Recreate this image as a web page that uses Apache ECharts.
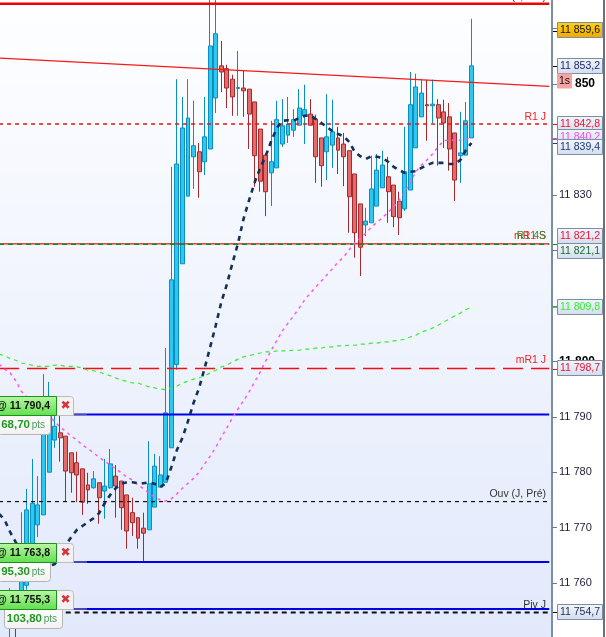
<!DOCTYPE html>
<html><head><meta charset="utf-8">
<style>html,body{margin:0;padding:0;background:#fff}#c{width:606px;height:637px}</style>
<script src="https://cdn.jsdelivr.net/npm/echarts@6/dist/echarts.min.js"></script>
</head><body><div id="c"></div>
<script>
// ---- data ----
const candleOpen = [null,null,11752.4,11755.1,11757.3,11759.6,11766.9,11770.5,11772.3,11780.0,11785.8,
11787.1,11786.5,11783.5,11781.7,11780.6,11777.7,11777.2,11778.1,11776.6,11777.2,
11779.3,11778.4,11775.9,11772.7,11771.8,11769.9,11769.6,11773.7,11777.3,11778.2,
11784.4,11799.4,11817.6,11829.8,11836.9,11837.8,11836.0,11838.3,11847.5,11853.3,
11852.8,11850.9,11849.2,11849.3,11849.1,11846.8,11841.9,11837.2,11834.0,11834.9,
11839.2,11840.8,11841.7,11842.6,11844.3,11844.6,11843.7,11840.3,11837.8,11839.0,
11840.3,11839.2,11838.0,11833.8,11828.4,11824.6,11825.0,11828.0,11831.3,11833.3,
11831.8,11828.9,11827.5,11830.9,11838.5,11844.1,11846.3,11846.1,11846.3,11845.0,
11844.1,11841.2,11837.1,11837.2,11840.3];
const candleClose = [null,null,11757.8,11751.9,11766.9,11773.2,11774.4,11774.1,11793.0,11792.1,11788.3,
11786.2,11780.2,11779.9,11779.5,11774.6,11776.8,11778.8,11775.4,11777.5,11781.5,
11777.5,11773.6,11769.4,11770.9,11768.1,11769.0,11777.9,11781.1,11779.5,11790.7,
11814.7,11835.6,11842.1,11843.9,11838.9,11834.2,11840.5,11856.9,11859.1,11852.2,
11849.3,11847.7,11849.4,11848.8,11844.6,11837.1,11832.5,11830.6,11836.0,11843.6,
11842.5,11842.8,11843.6,11845.7,11845.4,11842.6,11836.9,11835.3,11840.5,11841.4,
11838.1,11836.9,11829.7,11823.2,11820.6,11825.3,11831.1,11834.5,11835.4,11830.6,
11826.1,11825.9,11834.2,11846.3,11849.5,11848.4,11846.1,11846.4,11843.9,11843.0,
11838.3,11832.7,11837.6,11843.4,11853.3];
const candleLow = [null,null,11750,11750,11756.9,11758.8,11766.0,11768.3,11772.3,11780.0,11784.4,
11781.9,11774.8,11776.3,11774.6,11772.3,11774.3,11777.0,11770.7,11771.6,11777.0,
11771.8,11769.6,11766.2,11768.5,11766.2,11764.0,11769.6,11773.7,11777.3,11778.2,
11784.4,11798.5,11817.6,11829.8,11831.1,11829.5,11833.6,11838.3,11844.8,11848.6,
11845.7,11844.3,11844.3,11844.1,11838.3,11831.5,11830.6,11826.2,11828.0,11834.9,
11838.7,11839.4,11840.5,11842.6,11839.2,11842.6,11832.2,11831.5,11832.7,11834.9,
11833.8,11831.6,11823.2,11818.7,11815.4,11822.6,11825.0,11828.0,11831.3,11825.0,
11824.2,11822.8,11827.1,11830.9,11838.5,11844.1,11839.8,11843.0,11835.3,11838.5,
11834.4,11828.9,11832.2,11837.2,11840.3];
const candleHigh = [null,null,11759.1,11756.0,11772.8,11777.0,11782.4,11779.3,11797.7,11796.3,11791.2,
11790.3,11786.5,11783.5,11783.7,11780.6,11779.9,11780.2,11778.1,11782.4,11784.2,
11781.3,11778.4,11775.9,11775.4,11771.8,11772.7,11785.6,11783.3,11782.9,11802.4,
11835.1,11850.9,11847.7,11850.9,11847.0,11839.4,11847.7,11867.0,11867.0,11857.8,
11853.5,11851.7,11856.0,11852.4,11849.1,11846.8,11841.9,11837.2,11843.4,11847.0,
11847.3,11847.7,11845.5,11849.1,11849.9,11847.3,11844.5,11840.3,11848.2,11847.2,
11842.3,11841.2,11838.0,11833.8,11828.4,11827.7,11837.1,11837.4,11838.0,11836.9,
11831.8,11830.6,11842.3,11852.2,11851.9,11850.9,11850.8,11850.8,11847.3,11847.2,
11846.6,11841.2,11845.0,11846.8,11861.8];
const navyAverage = [11772.5,11771.4,11769.2,11767.4,11765.6,11764.5,11763.8,11763.2,11763.1,11763.1,11763.4,
11764.5,11766.9,11768.3,11769.6,11770.3,11771.0,11771.7,11772.6,11774.4,11775.9,
11777.1,11777.9,11778.2,11778.2,11778.0,11778.0,11778.2,11777.9,11777.3,11778.0,
11780.9,11784.0,11786.2,11789.2,11792.5,11795.2,11798.8,11802.6,11806.5,11810.7,
11813.9,11817.7,11821.3,11825.7,11829.1,11832.3,11834.9,11837.1,11839.8,11842.1,
11843.4,11843.5,11843.4,11843.9,11844.3,11844.4,11843.7,11843.0,11842.3,11841.5,
11841.0,11840.6,11839.6,11837.8,11837.0,11836.5,11837.0,11836.9,11836.7,11836.0,
11835.1,11834.5,11834.0,11834.2,11834.3,11834.9,11835.4,11835.8,11835.8,11835.8,
11835.6,11835.6,11836.3,11838.1,11839.4];
const magentaAverage = [11799.5,11798.6,11797.9,11796.5,11794.6,11793.6,11792.5,11791.6,11790.7,11790.0,11789.2,
11788.1,11787.4,11786.5,11785.8,11784.9,11784.2,11783.5,11782.7,11782.0,11781.3,
11780.6,11779.9,11779.1,11778.6,11777.7,11777.0,11776.2,11775.5,11775.0,11774.8,
11775.2,11776.1,11777.1,11778.0,11778.9,11780.0,11781.5,11782.9,11784.5,11786.3,
11788.0,11789.8,11791.4,11792.9,11794.5,11796.3,11798.1,11800.1,11802.0,11803.8,
11805.5,11806.9,11808.2,11809.6,11811.1,11812.3,11813.4,11814.5,11815.6,11816.7,
11817.9,11818.8,11820.1,11821.4,11822.2,11823.1,11824.2,11825.1,11825.9,11826.9,
11827.8,11829.1,11830.5,11832.3,11834.2,11835.4,11836.3,11837.4,11838.7,11839.8,
11839.9,11839.9,11839.9,11840.1,11840.2];
const greenAverage = [11801.3,11801.0,11800.5,11800.2,11799.7,11799.5,11799.3,11799.1,11799.1,11799.1,11799.3,
11799.3,11799.1,11799.1,11799.0,11798.8,11798.4,11798.3,11798.1,11797.7,11797.4,
11797.0,11796.6,11796.4,11796.1,11796.1,11795.7,11795.4,11795.2,11795.0,11794.9,
11795.2,11795.5,11796.1,11796.4,11796.8,11797.0,11797.4,11797.9,11798.4,11799.0,
11799.3,11799.9,11800.4,11800.8,11801.0,11801.3,11801.5,11801.7,11801.7,11801.9,
11801.9,11801.9,11802.0,11802.0,11802.2,11802.2,11802.4,11802.4,11802.6,11802.6,
11802.8,11802.8,11802.9,11802.9,11803.1,11803.1,11803.3,11803.3,11803.5,11803.5,
11803.7,11803.8,11804.0,11804.4,11804.7,11805.3,11805.6,11806.0,11806.5,11807.1,
11807.6,11808.2,11808.7,11809.3,11809.8];
const trendLine = [11854.7, 11849.6];
const levelValues = [11864.5, 11842.8, 11821.2, 11821.1, 11798.7, 11790.4, 11763.8, 11755.3, 11774.7, 11754.7];
const levelNames  = ["Haut (J, Pré)", "R1 J", "mR1 S", "R1 4S", "mR1 J", "", "", "", "Ouv (J, Pré)", "Piv J"];
const tagValues = [11859.6, 11853.2, 11842.8, 11840.2, 11839.4, 11821.2, 11821.1, 11809.8, 11798.7, 11754.7];
const tagLabels = ["11 859,6","11 853,2","11 842,8","11 840,2","11 839,4","11 821,2","11 821,1","11 809,8","11 798,7","11 754,7"];
const orderValues = [11790.4, 11763.8, 11755.3];
const orderLabels = ["@ 11 790,4", "@ 11 763,8", "@ 11 755,3"];
const orderPoints = ["68,70", "95,30", "103,80"];
const timerValue = 11850.6;
const timerLabel = "1s";

// ---- styles and layout, separate from the data ----
const FONT = '"Liberation Sans", Arial, sans-serif';
const levelStyle = [
  {c:'#f00000',w:2.4,t:'solid',from:0},
  {c:'#f01010',w:1.5,t:[4,4],from:0},
  {c:'#e81010',w:1.2,t:'solid',from:0},
  {c:'#1a8a1a',w:1.5,t:[5,4],from:0},
  {c:'#f01010',w:1.5,t:[20,8],from:0},
  {c:'#0000e6',w:2,t:'solid',from:13},
  {c:'#0000e6',w:2,t:'solid',from:13},
  {c:'#0000e6',w:2,t:'solid',from:13},
  {c:'#111111',w:1.2,t:[4,4],from:0},
  {c:'#111111',w:2,t:[5,4],from:12}
];
const levelTextColor = ['#333','#f02020','#f02020','#2a8a2a','#f02020','','','','#333','#333'];
const levelTextOffset = [-7,-7,-8,-8,-8,0,0,0,-7,-7];
const tagColors = ['#111','#1b2a66','#f01030','#f04cf0','#1b3a70','#f01030','#1a6b2a','#30f030','#f01030','#1b2a55'];
const tagOffsets = [-1,0,0,-1,4,-8,7,0,-1,0];
const tagTicks = ['#000','#000','#f01010','#f040f0','#1b3a70','#f01010','#1a8a1a','#30e030','#f01010','#111'];
const orderBoxRight = [50,50,62];
const orderBoxLeft = [-3,-3,4];
const LG = (a,b) => new echarts.graphic.LinearGradient(0,0,0,1,[{offset:0,color:a},{offset:1,color:b}]);

const categories = Array.from({length:100},(_,i)=>String(i));
const candles = candleOpen.map((o,i)=> o===null ? '-' : [o,candleClose[i],candleLow[i],candleHigh[i]]);

const levelSeries = levelValues.map((v,i)=>({
  type:'line', silent:true, symbol:'none', animation:false, z:3,
  data:[[levelStyle[i].from,v],[99,v]],
  lineStyle:{color:levelStyle[i].c,width:levelStyle[i].w,type:levelStyle[i].t}
}));

const maLine=(data,color,width,dash)=>({
  type:'line', silent:true, symbol:'none', animation:false, z:4, data,
  lineStyle:{color,width,type:dash}
});

const chart = echarts.init(document.getElementById('c'),null,{renderer:'canvas',width:606,height:637});
chart.setOption({
  animation:false,
  backgroundColor:'#ffffff',
  grid:{left:-3.74,top:-26.7,width:555.74,height:665.2,show:true,borderWidth:0,outerBoundsMode:'none',containLabel:false,
    backgroundColor:{type:'linear',x:0,y:0,x2:0,y2:1,colorStops:[{offset:0,color:'#ffffff'},{offset:0.05,color:'#fdfeff'},{offset:1,color:'#e2e9fb'}]}},
  xAxis:{type:'category',data:categories,show:false},
  yAxis:{type:'value',position:'right',min:11750,max:11870,interval:10,
    splitLine:{show:false},
    axisLine:{show:true,lineStyle:{color:'#7b8fa3',width:2}},
    axisTick:{show:true,length:5,lineStyle:{color:'#707a86',width:1}},
    axisLabel:{margin:7,color:'#1c1c3a',fontFamily:FONT,fontSize:11,
      formatter:v=>{if(v===11750)return '';const s=String(v);const t=s.slice(0,2)+' '+s.slice(2);return v%50===0?'{b|'+t+'}':t;},
      rich:{b:{fontFamily:FONT,fontSize:12,fontWeight:'bold',color:'#000'}}}},
  graphic:[{type:'rect',shape:{x:603,y:0,width:2,height:637},style:{fill:'#66727e'},z:10}],
  series:[
    {type:'candlestick',data:candles,barWidth:4.4,silent:true,animation:false,z:2,
      itemStyle:{color:'#2cc8f2',color0:'#e56a6a',borderColor:'#0b8fc0',borderColor0:'#a52a2e',borderWidth:1}},
    ...levelSeries,
    {type:'line',silent:true,symbol:'none',z:3,data:[[0,trendLine[0]],[99,trendLine[1]]],lineStyle:{color:'#f51a1a',width:1.3}},
    maLine(greenAverage,'#33ee33',1.2,[4,4]),
    maLine(magentaAverage,'#ff55ee',1.5,[3,4]),
    maLine(navyAverage,'#143058',2.6,[5,5]),
    // level captions
    {type:'custom',z:5,silent:true,clip:false,animation:false,
      data:levelValues.map((v,i)=>[0,v,i]),encode:{x:0,y:1},
      renderItem(p,api){
        const i=api.value(2); if(!levelNames[i]) return null;
        const y=api.coord([0,api.value(1)])[1]+levelTextOffset[i];
        const r=p.coordSys.x+p.coordSys.width;
        return {type:'text',style:{x:r-6,y,text:levelNames[i],fill:levelTextColor[i],font:'10.5px '+FONT,textAlign:'right',textVerticalAlign:'middle'}};
      }},
    // right hand price tags
    {type:'custom',z:6,silent:true,clip:false,animation:false,
      data:tagValues.map((v,i)=>[0,v,i]),encode:{x:0,y:1},
      renderItem(p,api){
        const i=api.value(2);
        const yv=Math.round(api.coord([0,api.value(1)])[1]);
        const yc=yv+tagOffsets[i];
        const r=p.coordSys.x+p.coordSys.width;
        const gold=i===0;
        return {type:'group',children:[
          {type:'rect',shape:{x:r+1,y:yv,width:5,height:1},style:{fill:tagTicks[i]}},
          {type:'rect',shape:{x:r+5.5,y:yc-7.5,width:45,height:15},
           style:{fill:gold?LG('#ffd21a','#f0a800'):LG('#f3f6fd','#d3dcee'),stroke:'#7b8fa3',lineWidth:1}},
          {type:'text',style:{x:r+28,y:yc+0.5,text:tagLabels[i],fill:tagColors[i],font:'10.5px '+FONT,textAlign:'center',textVerticalAlign:'middle'}}
        ]};
      }},
    // timer tag
    {type:'custom',z:7,silent:true,clip:false,animation:false,
      data:[[0,timerValue]],encode:{x:0,y:1},
      renderItem(p,api){
        const y=Math.round(api.coord([0,api.value(1)])[1]);
        const r=p.coordSys.x+p.coordSys.width;
        return {type:'group',children:[
          {type:'rect',shape:{x:r+5,y:y-7.5,width:15,height:15},style:{fill:'#f6a3a3'}},
          {type:'text',style:{x:r+12.5,y:y,text:timerLabel,fill:'#111',font:'10.5px '+FONT,textAlign:'center',textVerticalAlign:'middle'}}
        ]};
      }},
    // order tickets
    {type:'custom',z:8,silent:true,clip:false,animation:false,
      data:orderValues.map((v,i)=>[0,v,i]),encode:{x:0,y:1},
      renderItem(p,api){
        const i=api.value(2);
        const y=Math.round(api.coord([0,api.value(1)])[1]);
        const R=orderBoxRight[i], L=orderBoxLeft[i];
        return {type:'group',children:[
          {type:'rect',shape:{x:74,y:y-0.5,width:13,height:1},style:{fill:'#8e8e8e'}},
          {type:'rect',shape:{x:L+0.5,y:y-0.5,width:R-L,height:20,r:[0,0,3,3]},style:{fill:LG('#ffffff','#f1f1f1'),stroke:'#b5b5b5',lineWidth:1}},
          {type:'text',style:{x:R-20,y:y+10,text:orderPoints[i],fill:'#1f9a1f',font:'bold 11.5px '+FONT,textAlign:'right',textVerticalAlign:'middle'}},
          {type:'text',style:{x:R-5,y:y+10.5,text:'pts',fill:'#4c9a5c',font:'10px '+FONT,textAlign:'right',textVerticalAlign:'middle'}},
          {type:'rect',shape:{x:56.5,y:y-18.5,width:17,height:19,r:[0,3,0,0]},style:{fill:'#f2f2f2',stroke:'#bdbdbd',lineWidth:1}},
          {type:'text',style:{x:65.5,y:y-9,text:'✖',fill:'#d6343c',font:'12px "DejaVu Sans"',textAlign:'center',textVerticalAlign:'middle'}},
          {type:'rect',shape:{x:-4,y:y-18.5,width:60.5,height:19},style:{fill:LG('#b9f7a3','#5ee04c'),stroke:'#1f8f1f',lineWidth:1}},
          {type:'text',style:{x:50,y:y-9,text:orderLabels[i],fill:'#111',font:'bold 10.5px '+FONT,textAlign:'right',textVerticalAlign:'middle'}}
        ]};
      }}
  ]
});
</script></body></html>
